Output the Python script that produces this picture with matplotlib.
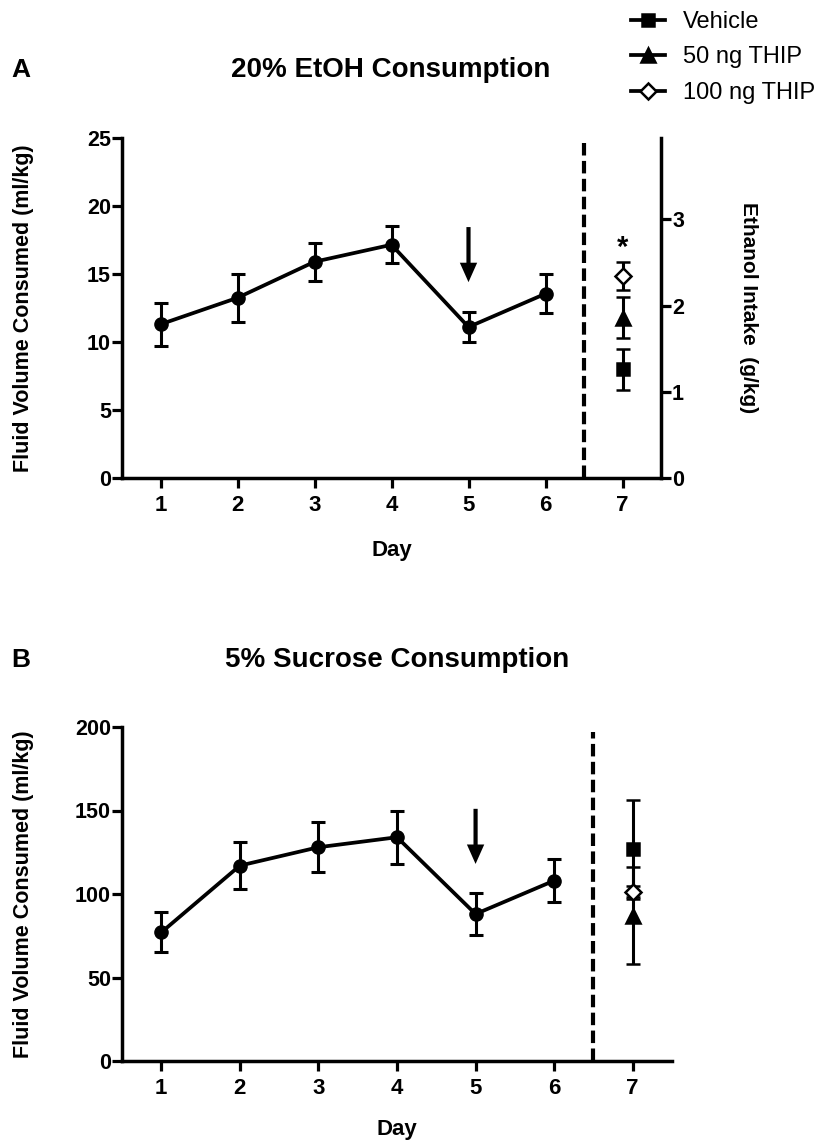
import matplotlib
matplotlib.use("Agg")
import matplotlib.pyplot as plt
from matplotlib.lines import Line2D

plt.rcParams['font.family'] = ['Liberation Sans', 'DejaVu Sans']
plt.rcParams['font.weight'] = 'bold'

# ---------------- data ----------------
days = [1, 2, 3, 4, 5, 6]
day_ticks = [1, 2, 3, 4, 5, 6, 7]
test_day = 7

etoh_mean = [11.3, 13.25, 15.9, 17.15, 11.1, 13.55]
etoh_sem = [1.6, 1.75, 1.4, 1.35, 1.1, 1.45]

sucrose_mean = [77, 117, 128, 134, 88, 108]
sucrose_sem = [12, 14, 15, 16, 12.5, 13]

groups = ['Vehicle', '50 ng THIP', '100 ng THIP']
etoh_test_mean = [8.0, 11.8, 14.85]
etoh_test_sem = [1.5, 1.5, 1.05]
sucrose_test_mean = [127, 87, 101]
sucrose_test_sem = [29, 29, 4]

etoh_ticks = [0, 5, 10, 15, 20, 25]
sucrose_ticks = [0, 50, 100, 150, 200]
intake_ticks = [0, 1, 2, 3]
ml_to_g = 0.2 * 0.789  # 20% EtOH, density 0.789 g/ml

arrow_etoh = (18.45, 14.4)
arrow_sucrose = (151, 118)
star_y = 16.9

# ---------------- styles ----------------
markers = ['s', '^', 'D']
msizes = [8.5, 10, 8]
faces = ['black', 'black', 'white']

W, H = 822, 1143
fig = plt.figure(figsize=(W / 100, H / 100), dpi=100)

axA = fig.add_axes([122 / W, 1 - 478 / H, (661 - 122) / W, 340 / H])
axB = fig.add_axes([122 / W, 1 - 1061 / H, (672 - 122) / W, 334 / H])

LW_AX = 2.5


def style_axis(ax, yticks, ylim):
    ax.set_xlim(0.5, 7.5)
    ax.set_ylim(*ylim)
    ax.set_xticks(day_ticks)
    ax.set_yticks(yticks)
    for s in ['top', 'right']:
        ax.spines[s].set_visible(False)
    for s in ['left', 'bottom']:
        ax.spines[s].set_linewidth(LW_AX)
        ax.spines[s].set_capstyle('projecting')
    ax.tick_params(axis='both', direction='out', length=7, width=2.3)
    ax.tick_params(axis='x', labelsize=16, pad=5)
    ax.tick_params(axis='y', labelsize=15.5, pad=1)
    for lab in ax.get_xticklabels() + ax.get_yticklabels():
        lab.set_fontweight('bold')
    ax.set_facecolor('none')


def draw_panel(ax, mean, sem, tmean, tsem, arrow):
    ax.errorbar(days, mean, yerr=sem, color='black', lw=2.7, marker='o',
                ms=9.5, capsize=5, capthick=2.2, elinewidth=2.2, zorder=3)
    ax.axvline(6.5, ymin=0, ymax=0.985, color='black', lw=3,
               linestyle=(0, (3, 1.3)), zorder=2)
    for i in range(len(groups)):
        ax.errorbar([test_day], [tmean[i]], yerr=[tsem[i]], color='black',
                    marker=markers[i], ms=msizes[i], mfc=faces[i],
                    mec='black', mew=1.8, capsize=5, capthick=2.2,
                    elinewidth=2.2, ls='none', zorder=4 + i)
    ax.annotate('', xy=(5, arrow[1]), xytext=(5, arrow[0]),
                arrowprops=dict(facecolor='black', edgecolor='none',
                                width=3, headwidth=12.5, headlength=14,
                                shrink=0))


style_axis(axA, etoh_ticks, (0, 25))
style_axis(axB, sucrose_ticks, (0, 200))
draw_panel(axA, etoh_mean, etoh_sem, etoh_test_mean, etoh_test_sem, arrow_etoh)
draw_panel(axB, sucrose_mean, sucrose_sem, sucrose_test_mean, sucrose_test_sem, arrow_sucrose)
axA.text(test_day, star_y, '*', ha='center', va='center', fontsize=21,
         fontweight='bold')

# right axis for ethanol intake
axR = axA.twinx()
axR.set_ylim(0, 25 * ml_to_g)
axR.set_yticks(intake_ticks)
for s in ['top', 'left', 'bottom']:
    axR.spines[s].set_visible(False)
axR.spines['right'].set_linewidth(LW_AX)
axR.tick_params(axis='y', direction='out', length=7, width=2.3,
                labelsize=15.5, pad=1)
for lab in axR.get_yticklabels():
    lab.set_fontweight('bold')

# labels
axA.set_xlabel('Day', fontsize=16, fontweight='bold')
axA.xaxis.set_label_coords(0.5, -(540 - 478) / 340)
axB.set_xlabel('Day', fontsize=16, fontweight='bold')
axB.xaxis.set_label_coords(0.5, -(1119 - 1061) / 334)

fig.text(24 / W, 1 - 308 / H, 'Fluid Volume Consumed (ml/kg)', rotation=90,
         ha='center', va='center', fontsize=15.5, fontweight='bold')
fig.text(24 / W, 1 - 894 / H, 'Fluid Volume Consumed (ml/kg)', rotation=90,
         ha='center', va='center', fontsize=15.5, fontweight='bold')
fig.text(748 / W, 1 - 308 / H, 'Ethanol Intake  (g/kg)', rotation=270,
         ha='center', va='center', fontsize=15, fontweight='bold')

fig.text(391 / W, 1 - 70 / H, '20% EtOH Consumption', ha='center',
         va='center', fontsize=20, fontweight='bold')
fig.text(397 / W, 1 - 660 / H, '5% Sucrose Consumption', ha='center',
         va='center', fontsize=20, fontweight='bold')
fig.text(21 / W, 1 - 70 / H, 'A', ha='center', va='center', fontsize=19,
         fontweight='bold')
fig.text(21 / W, 1 - 660 / H, 'B', ha='center', va='center', fontsize=19,
         fontweight='bold')

# legend
handles = [Line2D([], [], color='black', lw=2.7, marker=markers[i],
                  ms=msizes[i], mfc=faces[i], mec='black', mew=1.8)
           for i in range(len(groups))]
fig.legend(handles, groups, loc='upper left',
           bbox_to_anchor=(631 / W, 1 - 11 / H), frameon=False,
           prop={'size': 17, 'weight': 'normal'}, handlelength=1.45,
           handletextpad=0.75, labelspacing=0.57, borderpad=0,
           borderaxespad=0)

fig.savefig('out.png', dpi=100)
